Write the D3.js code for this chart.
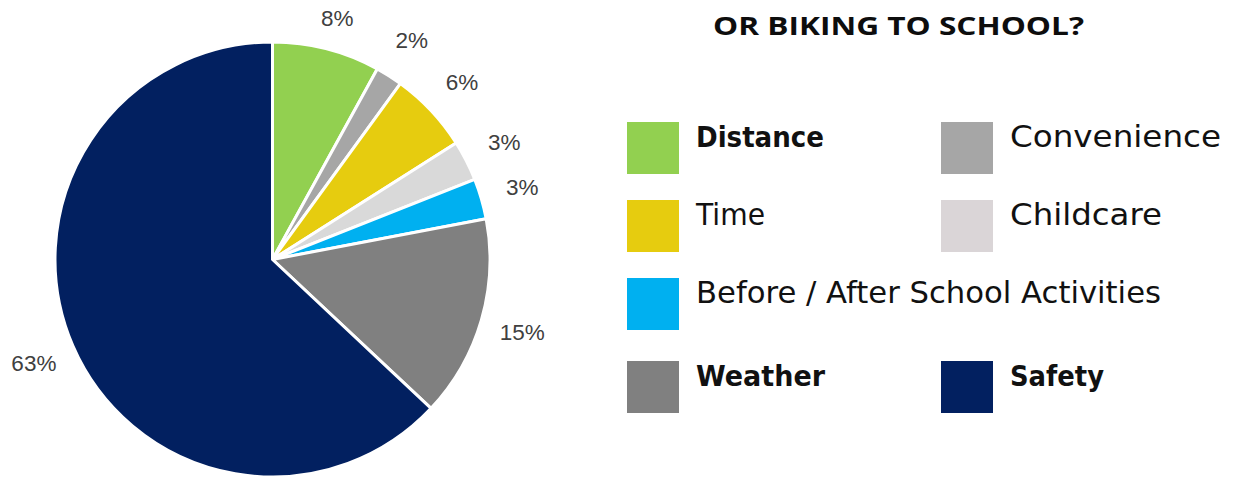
<!DOCTYPE html>
<html>
<head>
<meta charset="utf-8">
<script src="https://cdn.jsdelivr.net/npm/d3@7"></script>
<style>
  html, body { margin: 0; padding: 0; background: #ffffff; }
  svg { display: block; }
</style>
</head>
<body>
<svg id="chart" width="1236" height="478"></svg>
<script>
// Reasons that keep children from walking or biking to school (share of responses, %)
const categories = ["Distance", "Convenience", "Time", "Childcare", "Before / After School Activities", "Weather", "Safety"];
const values     = [8, 2, 6, 3, 3, 15, 63];
const colors     = ["#92D050", "#A6A6A6", "#E6CC0F", "#D9D9D9", "#00B0F0", "#808080", "#022060"];
const legendColors = ["#92D050", "#A6A6A6", "#E6CC0F", "#DAD5D7", "#00B0F0", "#808080", "#022060"];
const boldLabels = ["Distance", "Weather", "Safety"];
const titleText = "OR BIKING TO SCHOOL?";

const svg = d3.select("#chart");
const W = 1236, H = 478;

// ---- pie ----
const cx = 272.5, cy = 259.5, R = 217.5;
const data = categories.map((c, i) => ({ name: c, value: values[i], color: colors[i] }));

const pie = d3.pie().value(d => d.value).sort(null).startAngle(0).endAngle(2 * Math.PI);
const arcs = pie(data);
const arc = d3.arc().innerRadius(0).outerRadius(R);
const labelArc = d3.arc().innerRadius(260).outerRadius(260);

const g = svg.append("g").attr("transform", `translate(${cx},${cy})`);

g.selectAll("path.slice")
  .data(arcs)
  .join("path")
  .attr("class", "slice")
  .attr("d", arc)
  .attr("fill", d => d.data.color)
  .attr("stroke", "#ffffff")
  .attr("stroke-width", 3)
  .attr("stroke-linejoin", "round");

// outside-end percentage labels, kept inside the drawing area
const labelPos = d => {
  const [x, y] = labelArc.centroid(d);
  const minY = 18 - cy, maxY = H - 14 - cy;
  return [x, Math.max(minY, Math.min(maxY, y))];
};

g.selectAll("text.pct")
  .data(arcs)
  .join("text")
  .attr("class", "pct")
  .attr("transform", d => `translate(${labelPos(d)})`)
  .attr("text-anchor", "middle")
  .attr("dy", "0.36em")
  .attr("font-family", "'Liberation Sans', Arial, sans-serif")
  .attr("font-size", 22.5)
  .attr("fill", "#404040")
  .text(d => `${d.data.value}%`);

// ---- title ----
svg.append("text")
  .attr("x", 713)
  .attr("y", 35)
  .attr("font-family", "'Open Sans', sans-serif")
  .attr("font-weight", 700)
  .attr("font-size", 24.5)
  .attr("fill", "#0d0d0d")
  .attr("textLength", 371)
  .attr("lengthAdjust", "spacingAndGlyphs")
  .text(titleText);

// ---- legend (two columns, Before / After spans a full row) ----
const colX = [627, 941];
const rowY = [122, 200, 278, 361];
const legendSlots = [
  { row: 0, col: 0, w: 128 },
  { row: 0, col: 1, w: 211 },
  { row: 1, col: 0, w: 69 },
  { row: 1, col: 1, w: 152 },
  { row: 2, col: 0, w: 465 },
  { row: 3, col: 0, w: 129 },
  { row: 3, col: 1, w: 94 }
];
const sw = 52, sh = 52;

const legend = svg.append("g");
const items = legend.selectAll("g.item")
  .data(data.map((d, i) => ({ ...d, slot: legendSlots[i], lc: legendColors[i] })))
  .join("g")
  .attr("class", "item")
  .attr("transform", d => `translate(${colX[d.slot.col]},${rowY[d.slot.row]})`);

items.append("rect")
  .attr("width", sw)
  .attr("height", sh)
  .attr("fill", d => d.lc);

items.append("text")
  .attr("x", sw + 17)
  .attr("y", 24.5)
  .attr("font-family", "'DejaVu Sans', sans-serif")
  .attr("font-size", d => boldLabels.includes(d.name) ? 29 : 30)
  .attr("font-weight", d => boldLabels.includes(d.name) ? 700 : 400)
  .attr("fill", "#111111")
  .attr("textLength", d => d.slot.w)
  .attr("lengthAdjust", "spacingAndGlyphs")
  .text(d => d.name);
</script>
</body>
</html>
